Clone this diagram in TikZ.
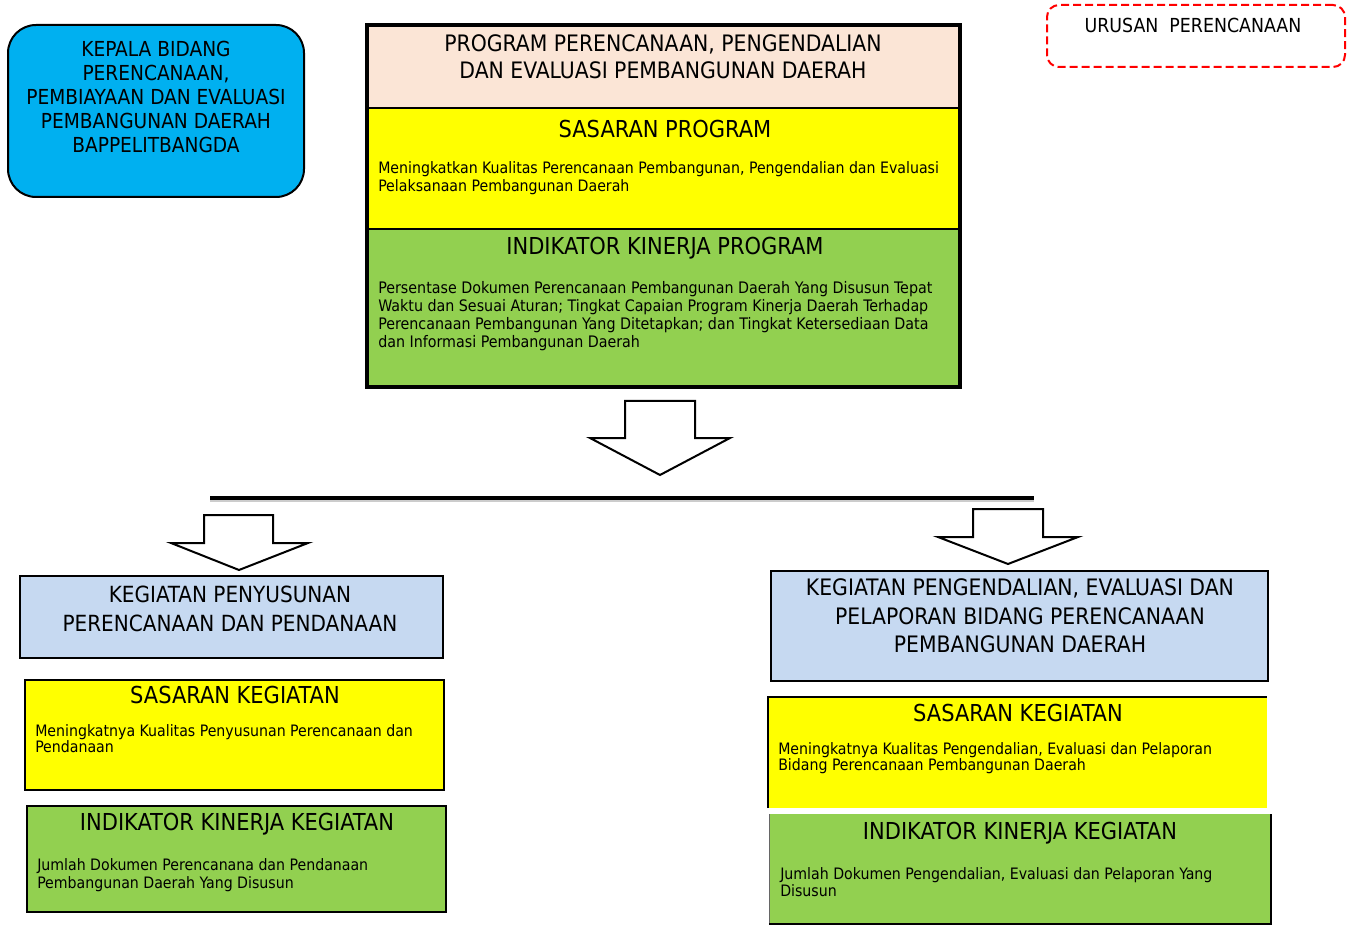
\documentclass[tikz,border=0pt]{standalone}
\usepackage{fontspec}
\setmainfont{DejaVu Sans Condensed}
\definecolor{peach}{HTML}{FBE5D6}
\definecolor{yel}{HTML}{FFFF00}
\definecolor{grn}{HTML}{92D050}
\definecolor{cyanbox}{HTML}{00B0F0}
\definecolor{lblue}{HTML}{C6D9F1}
\definecolor{dred}{HTML}{FF0000}
\begin{document}
\begin{tikzpicture}[x=0.75pt,y=-0.75pt,
  size/.style 2 args={minimum width=#1*0.75pt, minimum height=#2*0.75pt},
  box/.style={draw=black, line width=1.5pt, anchor=north west, inner sep=0pt, outer sep=0pt},
  plainbox/.style={anchor=north west, inner sep=0pt, outer sep=0pt, draw=none},
  head/.style={font=\fontsize{16}{20}\selectfont, align=center, anchor=center, inner sep=0pt},
  big/.style={font=\fontsize{17.5}{20}\selectfont, align=center, anchor=center, inner sep=0pt},
  body/.style={font=\fontsize{11.8}{13.5}\selectfont, align=left, anchor=north west, inner sep=0pt},
  blockarrow/.style={draw=black, line width=1.5pt, fill=white, line join=miter}]
\useasboundingbox (0,0) rectangle (1349,930);

% Kepala bidang
\node[box, fill=cyanbox, rounded corners=21pt, size={296}{172}] (kepala) at (8,25) {};
\node[head, font=\fontsize{15.5}{18}\selectfont] (kepalat) at (156,97) {KEPALA BIDANG\\PERENCANAAN,\\PEMBIAYAAN DAN EVALUASI\\PEMBANGUNAN DAERAH\\BAPPELITBANGDA};

% Urusan
\node[box, draw=dred, dash pattern=on 6pt off 3pt, rounded corners=9pt, size={298}{62}] (urusan) at (1047,5) {};
\node[head, font=\fontsize{14.5}{18}\selectfont] (urusant) at (1193,25) {URUSAN\ \ PERENCANAAN};

% Program block
\node[plainbox, fill=peach, size={593}{83}] (prog) at (367,25) {};
\node[plainbox, fill=yel, size={593}{121}] (sasprog) at (367,108) {};
\node[plainbox, fill=grn, size={593}{158}] (indprog) at (367,229) {};
\draw[line width=1.5pt] (prog.south west) -- (prog.south east);
\draw[line width=1.2pt] (sasprog.south west) -- (sasprog.south east);
\draw[line width=2.4pt] (prog.north west) rectangle (indprog.south east);
\node[head, font=\fontsize{17}{20.25}\selectfont] (progt) at (663,56.5) {PROGRAM PERENCANAAN, PENGENDALIAN\\DAN EVALUASI PEMBANGUNAN DAERAH};
\node[big] (sasprogh) at (665,129) {SASARAN PROGRAM};
\node[body] (sasprogb) at (378,161.5) {Meningkatkan Kualitas Perencanaan Pembangunan, Pengendalian dan Evaluasi\\Pelaksanaan Pembangunan Daerah};
\node[big] (indprogh) at (665,248) {INDIKATOR KINERJA PROGRAM};
\node[body, font=\fontsize{11.9}{13.3}\selectfont] (indprogb) at (378,281.5) {Persentase Dokumen Perencanaan Pembangunan Daerah Yang Disusun Tepat\\Waktu dan Sesuai Aturan; Tingkat Capaian Program Kinerja Daerah Terhadap\\Perencanaan Pembangunan Yang Ditetapkan; dan Tingkat Ketersediaan Data\\dan Informasi Pembangunan Daerah};

% main arrow
\draw[blockarrow] (625,401) -- (695,401) -- (695,438) -- (730,438) -- (660,475) -- (590,438) -- (625,438) -- cycle;

% horizontal line
\coordinate (hl) at (210,498);
\coordinate (hr) at (1034,498);
\draw[line width=3pt, black!20] ([yshift=-1.2pt]hl) -- ([yshift=-1.2pt]hr);
\draw[line width=3pt] (hl) -- (hr);

% left arrow
\draw[blockarrow] (204,515) -- (273,515) -- (273,543) -- (308,543) -- (239,570) -- (171,543) -- (204,543) -- cycle;
% right arrow
\draw[blockarrow] (973,509) -- (1043,509) -- (1043,537) -- (1078,537) -- (1008,564) -- (938,537) -- (973,537) -- cycle;

% Left column
\node[box, fill=lblue, size={423}{82}] (lkeg) at (20,576) {};
\node[head, font=\fontsize{16.7}{21.75}\selectfont] (lkegt) at (230,608.5) {KEGIATAN PENYUSUNAN\\PERENCANAAN DAN PENDANAAN};
\node[box, fill=yel, size={419}{110}] (lsas) at (25,680) {};
\node[big] (lsash) at (235,695) {SASARAN KEGIATAN};
\node[body, font=\fontsize{11.8}{12}\selectfont] (lsasb) at (35,724.5) {Meningkatnya Kualitas Penyusunan Perencanaan dan\\Pendanaan};
\node[box, fill=grn, size={419}{106}] (lind) at (27,806) {};
\node[big] (lindh) at (237,824) {INDIKATOR KINERJA KEGIATAN};
\node[body] (lindb) at (37,858.5) {Jumlah Dokumen Perencanana dan Pendanaan\\Pembangunan Daerah Yang Disusun};

% Right column
\node[box, fill=lblue, size={497}{110}] (rkeg) at (771,571) {};
\node[head, font=\fontsize{17}{21.4}\selectfont] (rkegt) at (1020,616) {KEGIATAN PENGENDALIAN, EVALUASI DAN\\PELAPORAN BIDANG PERENCANAAN\\PEMBANGUNAN DAERAH};
\node[plainbox, fill=yel, size={499}{111}] (rsas) at (768,697) {};
\draw[line width=1.5pt] (rsas.south west) -- (rsas.north west) -- (rsas.north east);
\node[big] (rsash) at (1018,713) {SASARAN KEGIATAN};
\node[body, font=\fontsize{11.8}{12}\selectfont] (rsasb) at (778,742.5) {Meningkatnya Kualitas Pengendalian, Evaluasi dan Pelaporan\\Bidang Perencanaan Pembangunan Daerah};
\node[plainbox, fill=grn, size={502}{110}] (rind) at (769,814) {};
\draw[line width=0.6pt, black!60] (rind.north west) -- (rind.south west);
\draw[line width=1.5pt] (rind.south west) -- (rind.south east) -- (rind.north east);
\node[big] (rindh) at (1020,833) {INDIKATOR KINERJA KEGIATAN};
\node[body, font=\fontsize{11.8}{12.75}\selectfont] (rindb) at (780,867.5) {Jumlah Dokumen Pengendalian, Evaluasi dan Pelaporan Yang\\Disusun};
\end{tikzpicture}
\end{document}
